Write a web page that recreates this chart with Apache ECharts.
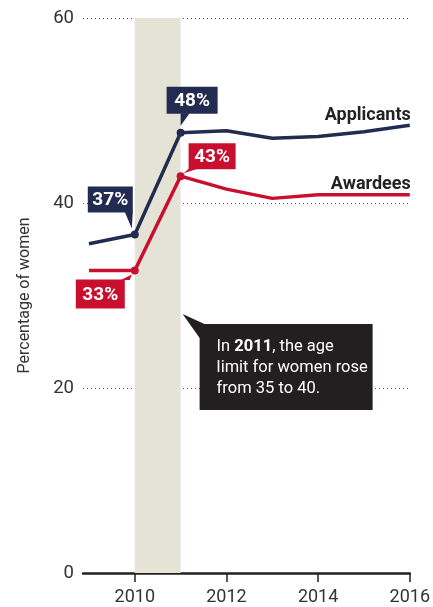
<!DOCTYPE html>
<html>
<head>
<meta charset="utf-8">
<script src="https://cdn.jsdelivr.net/npm/echarts@6/dist/echarts.min.js"></script>
<style>
  html, body { margin: 0; padding: 0; background: #fff; }
  #main { width: 433px; height: 607px; }
</style>
</head>
<body>
<div id="main"></div>
<script>
// data
var years = [2009, 2010, 2011, 2012, 2013, 2014, 2015, 2016];
var applicants = [35.6, 36.6, 47.6, 47.8, 47.0, 47.2, 47.7, 48.4];
var awardees = [32.7, 32.7, 42.9, 41.5, 40.5, 40.9, 40.9, 40.9];
var xTicks = [2010, 2012, 2014, 2016];
var band = [2010, 2011];   // shaded period
var navy = '#222c50';
var red = '#c8102e';
var font = 'Roboto';

var chart = echarts.init(document.getElementById('main'));

function pairs(ys) {
  return years.map(function (y, i) { return [y, ys[i]]; });
}

// dots only on the 2010 and 2011 points, name label on the last one
function seriesData(ys, name) {
  return pairs(ys).map(function (p, i) {
    var item = { value: p };
    if (p[0] === 2010 || p[0] === 2011) {
      item.symbolSize = 8;
    }
    if (i === ys.length - 1) {
      item.label = {
        show: true, formatter: name, position: 'top', align: 'right',
        offset: [1, 4], fontFamily: font, fontWeight: 'bold', fontSize: 18, color: '#222'
      };
    }
    return item;
  });
}

var option = {
  animation: false,
  grid: { left: 83, right: 22, top: 18, bottom: 34 },
  xAxis: {
    type: 'value', min: 2008.87, max: 2016,
    axisLine: { show: true, lineStyle: { color: '#222', width: 2.5 } },
    axisTick: { show: true, customValues: xTicks, length: 9, lineStyle: { color: '#222', width: 1.5 } },
    axisLabel: {
      customValues: xTicks, fontFamily: font, fontSize: 18, color: '#333', margin: 15,
      formatter: function (v) { return String(v); }
    },
    splitLine: { show: false }
  },
  yAxis: {
    type: 'value', min: 0, max: 60, interval: 20,
    name: 'Percentage of women', nameLocation: 'middle', nameGap: 50,
    nameTextStyle: { fontFamily: font, fontSize: 16, color: '#333' },
    axisLine: { show: false }, axisTick: { show: false },
    axisLabel: { fontFamily: font, fontSize: 18.5, color: '#333', margin: 9 },
    splitLine: { lineStyle: { color: '#555', type: [1, 3], width: 1 } }
  },
  series: [
    {
      type: 'line', data: [], silent: true, z: 1,
      markArea: {
        silent: true,
        itemStyle: { color: '#e5e3d6' },
        data: [[{ xAxis: band[0] }, { xAxis: band[1] }]]
      }
    },
    {
      name: 'Applicants', type: 'line', data: seriesData(applicants, 'Applicants'),
      symbol: 'circle', symbolSize: 0, showSymbol: true, showAllSymbol: true,
      color: navy, lineStyle: { width: 3.5, color: navy }, z: 3
    },
    {
      name: 'Awardees', type: 'line', data: seriesData(awardees, 'Awardees'),
      symbol: 'circle', symbolSize: 0, showSymbol: true, showAllSymbol: true,
      color: red, lineStyle: { width: 3.5, color: red }, z: 3
    }
  ]
};
chart.setOption(option);

// callouts anchored to data points through the chart's scales
function px(x, y) { return chart.convertToPixel({ gridIndex: 0 }, [x, y]); }

var callouts = [
  { ys: applicants, year: 2010, color: navy, box: [-47, -48, 45, 26], tri: [[-10, 0], [-2, 0], [-3, -6]] },
  { ys: applicants, year: 2011, color: navy, box: [-14, -46, 51, 27], tri: [[0, 0], [9, 0], [0, -7]] },
  { ys: awardees, year: 2011, color: red, box: [8, -33, 47, 26], tri: [[8, 0], [17, 0], [3, -3]] },
  { ys: awardees, year: 2010, color: red, box: [-59, 9, 49, 29], tri: [[-14, 0], [-5, 0], [-3, 4]], top: true }
];

var graphics = [];
callouts.forEach(function (c) {
  var i = years.indexOf(c.year);
  var p = px(c.year, c.ys[i]);
  var bx = p[0] + c.box[0], by = p[1] + c.box[1], bw = c.box[2], bh = c.box[3];
  var edge = c.top ? by + 0.5 : by + bh - 0.5;
  graphics.push({
    type: 'polygon', z: 10,
    shape: { points: [
      [p[0] + c.tri[0][0], edge],
      [p[0] + c.tri[1][0], edge],
      [p[0] + c.tri[2][0], p[1] + c.tri[2][1]]
    ] },
    style: { fill: c.color }
  });
  graphics.push({
    type: 'rect', z: 10,
    shape: { x: bx, y: by, width: bw, height: bh },
    style: { fill: c.color }
  });
  graphics.push({
    type: 'text', z: 11,
    x: bx + bw / 2, y: by + bh / 2 + 1,
    style: {
      text: Math.round(c.ys[i]) + '%', fill: '#fff', align: 'center', verticalAlign: 'middle',
      font: 'bold 19px ' + font
    }
  });
});

// note box pointing at the end of the shaded band
var tip = px(band[1], 28);
graphics.push({
  type: 'polygon', z: 10,
  shape: { points: [[tip[0] + 2, tip[1]], [tip[0] + 26, tip[1] + 11], [tip[0] + 19, tip[1] + 24]] },
  style: { fill: '#231f20' }
});
graphics.push({
  type: 'rect', z: 10,
  shape: { x: tip[0] + 19, y: tip[1] + 10, width: 173, height: 86 },
  style: { fill: '#231f20' }
});
graphics.push({
  type: 'text', z: 11,
  x: tip[0] + 36, y: tip[1] + 22,
  style: {
    text: 'In {b|2011}, the age\nlimit for women rose\nfrom 35 to 40.',
    fill: '#fff', font: '16.5px ' + font, lineHeight: 21,
    rich: { b: { fontWeight: 'bold', fontSize: 16.5, fontFamily: font, fill: '#fff', lineHeight: 21 } }
  }
});

chart.setOption({ graphic: graphics });
</script>
</body>
</html>
